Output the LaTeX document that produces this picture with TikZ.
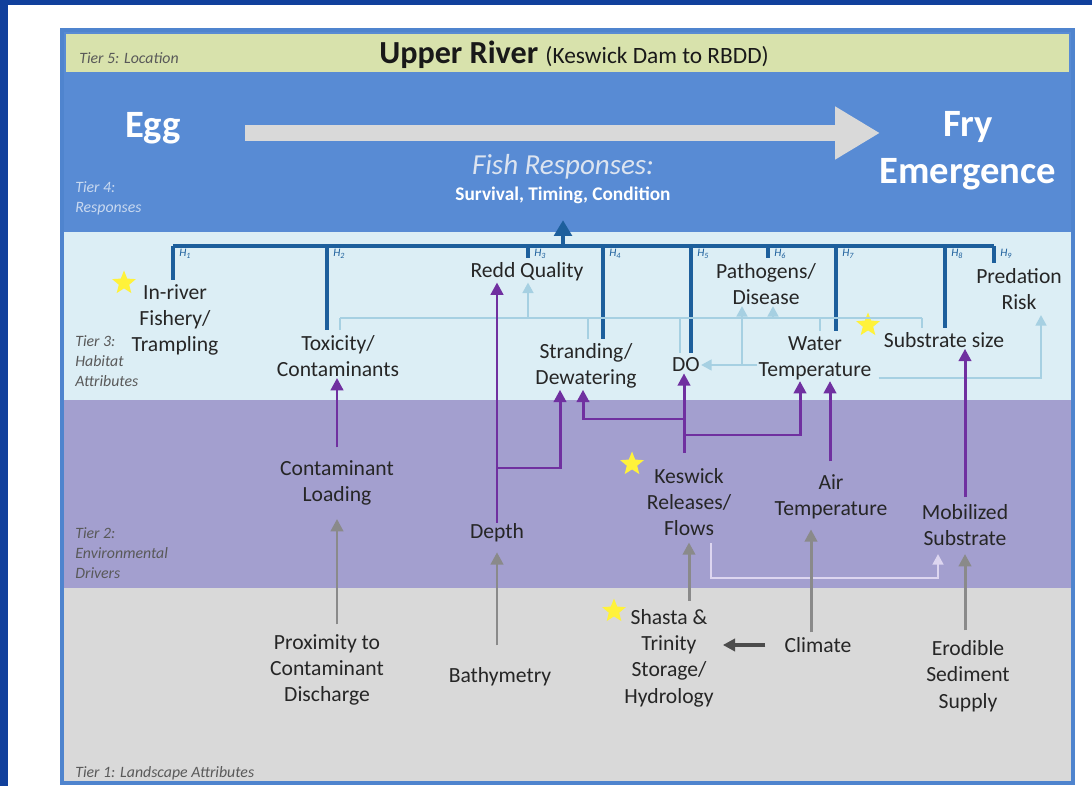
\documentclass[tikz,border=0pt]{standalone}
\usepackage{fontspec}
\setmainfont{Carlito}
\usetikzlibrary{arrows.meta,shapes.geometric,calc}

\definecolor{navybg}{HTML}{11409C}
\definecolor{frameblue}{HTML}{4F84CE}
\definecolor{tierfive}{HTML}{D8E2AC}
\definecolor{tierfour}{HTML}{588BD4}
\definecolor{tierthree}{HTML}{DCEEF5}
\definecolor{tiertwo}{HTML}{A39FCF}
\definecolor{tierone}{HTML}{D9D9D9}
\definecolor{hblue}{HTML}{1D5F9C}
\definecolor{habblue}{HTML}{A6D0E2}
\definecolor{purplelink}{HTML}{7030A0}
\definecolor{greylink}{HTML}{8A8A8A}
\definecolor{altlink}{HTML}{DDD6F0}
\definecolor{lifegrey}{HTML}{D9D9D9}
\definecolor{fishtext}{HTML}{DCE4F0}
\definecolor{tierfourtext}{HTML}{C9D9F0}
\definecolor{staryellow}{HTML}{FFF23A}

\tikzset{
  attr/.style={font=\fontsize{12.3}{15}\selectfont, align=center, text=black!85, inner sep=0.5pt},
  tiertext/.style={font=\fontsize{9}{11.3}\selectfont\itshape, align=left, anchor=west, inner sep=0pt, text=black!65},
  hlabel/.style={font=\fontsize{6.5}{7}\selectfont\itshape, anchor=west, inner sep=0pt, text=hblue},
  goldstar/.style={star, star points=5, star point ratio=2.3, fill=staryellow, minimum size=0.5cm, inner sep=0pt},
  hlink/.style={hblue, line width=2.3pt},
  habitat/.style={habblue, line width=1.6pt},
  habarrow/.style={habitat, -{Triangle[length=6pt,width=6pt]}},
  driver/.style={purplelink, line width=1.7pt, -{Triangle[length=7pt,width=7pt]}},
  landscape/.style={greylink, line width=1.7pt, -{Triangle[length=7pt,width=7pt]}},
  bigarrow/.style={lifegrey, line width=0.32cm, -{Triangle[length=0.9cm,width=1cm]}},
}

\begin{document}
\begin{tikzpicture}[x=0.02cm,y=-0.02cm]
  \useasboundingbox (0,0) rectangle (1092,786);

  % page background
  \fill[white] (0,0) rectangle (1092,786);
  \fill[navybg] (0,0) rectangle (1092,5);
  \fill[navybg] (0,0) rectangle (8,786);

  % tier bands
  \fill[frameblue] (60,28) rectangle (1075,785);
  \fill[tierfour] (64,32) rectangle (1071,232);
  \fill[tierfive] (66,34) rectangle (1069,72);
  \fill[tierthree] (64,232) rectangle (1071,400);
  \fill[tiertwo] (64,400) rectangle (1071,588);
  \fill[tierone] (64,588) rectangle (1071,781);

  % tier labels
  \node[tiertext] (t5) at (79,58) {Tier 5: Location};
  \node[tiertext, text=tierfourtext] (t4) at (75,198) {Tier 4:\\Responses};
  \node[tiertext] (t3) at (75,361) {Tier 3:\\Habitat\\Attributes};
  \node[tiertext] (t2) at (75,553) {Tier 2:\\Environmental\\Drivers};
  \node[tiertext] (t1) at (75,773) {Tier 1: Landscape Attributes};

  % title and life stages
  \node[text=black!90] (title) at (574,55) {\fontsize{18.3}{20}\selectfont\bfseries Upper River\ {\fontsize{13.3}{15}\selectfont\mdseries (Keswick Dam to RBDD)}};
  \node[font=\fontsize{22}{24}\selectfont\bfseries, text=white] (egg) at (153,128) {Egg};
  \node[font=\fontsize{22}{26.6}\selectfont\bfseries, text=white, align=center] (fry) at (968,151) {Fry\\Emergence};
  \coordinate (lifeA) at (245,133);
  \coordinate (lifeB) at (880,133);
  \draw[bigarrow] (lifeA) -- (lifeB);
  \node[font=\fontsize{16.5}{18}\selectfont\itshape, text=fishtext] (fish) at (563,167) {Fish Responses:};
  \node[font=\fontsize{11}{13}\selectfont\bfseries, text=white] (resp) at (563,195) {Survival, Timing, Condition};

  % tier 3: habitat attributes
  \node[attr] (fishery) at (175,320) {In-river\\Fishery/\\Trampling};
  \node[attr] (toxicity) at (338,356) {Toxicity/\\Contaminants};
  \node[attr] (redd) at (527,272) {Redd Quality};
  \node[attr] (strand) at (586,366) {Stranding/\\Dewatering};
  \node[attr] (do) at (686,365) {DO};
  \node[attr] (pathogen) at (766,284) {Pathogens/\\Disease};
  \node[attr] (watertemp) at (815,358) {Water\\Temperature};
  \node[attr] (substrate) at (944,340) {Substrate size};
  \node[attr] (predation) at (1019,289) {Predation\\Risk};

  % tier 2: environmental drivers
  \node[attr] (contload) at (337,483) {Contaminant\\Loading};
  \node[attr] (depth) at (497,533) {Depth};
  \node[attr] (keswick) at (689,502) {Keswick\\Releases/\\Flows};
  \node[attr] (airtemp) at (831,497) {Air\\Temperature};
  \node[attr] (mobil) at (965,525) {Mobilized\\Substrate};

  % tier 1: landscape attributes
  \node[attr] (proximity) at (327,670) {Proximity to\\Contaminant\\Discharge};
  \node[attr] (bathy) at (500,677) {Bathymetry};
  \node[attr] (shasta) at (669,658) {Shasta \&\\Trinity\\Storage/\\Hydrology};
  \node[attr] (climate) at (818,645) {Climate};
  \node[attr] (erodible) at (968,676) {Erodible\\Sediment\\Supply};

  % stars
  \node[goldstar] (s1) at (124,283) {};
  \node[goldstar] (s2) at (868,325) {};
  \node[goldstar] (s3) at (632,464) {};
  \node[goldstar] (s4) at (614,611) {};

  % hypotheses bar
  \draw[hlink] (173,246) -- (994,246);
  \foreach \n/\i/\x in {fishery/1/173, toxicity/2/327, redd/3/528, strand/4/603, do/5/691,
                        pathogen/6/768, watertemp/7/836, substrate/8/945, predation/9/994}{
    \draw[hlink, shorten >=2pt] (\x,246) -- (\x,246 |- \n.north);
    \node[hlabel] (h\i) at (\x+6,254) {H\textsubscript{\i}};
  }
  \draw[hlink, shorten >=6pt, -{Triangle[length=9pt,width=10pt]}] (563,246) -- (resp.south);

  % links among habitat attributes
  \draw[habitat] (340,318) -- (922,318);
  \foreach \n/\x in {toxicity/340, strand/588, do/680, watertemp/820, substrate/922}
    \draw[habitat, shorten >=2pt] (\x,318) -- (\x,318 |- \n.north);
  \foreach \n/\x in {redd/528, pathogen/773}
    \draw[habarrow] (\x,318) -- (\x,318 |- \n.south);
  \coordinate (wtj) at (742,365);
  \draw[habitat] (watertemp.west |- wtj) -- (wtj);
  \draw[habarrow] (wtj) -- (do.east |- wtj);
  \draw[habarrow] (wtj) -- (wtj |- pathogen.south);
  \draw[habarrow] ($(watertemp.east)+(6,20)$) -| ($(predation.south)+(22,4)$);

  % drivers to habitat attributes
  \coordinate (cj) at ($(contload.north)+(0,-12)$);
  \draw[driver] (cj) -- (cj |- toxicity.south);
  \draw[driver] (depth.north) -- (depth.north |- redd.south);
  \coordinate (dj) at (497,468);
  \draw[driver] (dj) -| ($(strand.south)+(-26,0)$);
  \coordinate (kj) at ($(keswick.north)+(-5,-14)$);
  \draw[driver] (kj) -- (kj |- do.south);
  \coordinate (kj1) at (684,419);
  \coordinate (kj2) at (684,435);
  \draw[driver] (kj1) -| ($(strand.south)+(-3,0)$);
  \draw[driver] (kj2) -| ($(watertemp.south)+(-15,0)$);
  \coordinate (aj) at ($(airtemp.north)+(-1,-12)$);
  \draw[driver] (aj) -- (aj |- watertemp.south);
  \coordinate (mj) at ($(mobil.north)+(0,-6)$);
  \draw[driver] (mj) -- (mj |- substrate.south);

  % flows to mobilized substrate
  \coordinate (kf) at ($(keswick.south)+(22,6)$);
  \coordinate (mf) at (938,578);
  \draw[altlink, line width=1.6pt, shorten >=4pt, -{Triangle[length=6pt,width=6pt]}] (kf) |- (mf) -- (mf |- mobil.south);

  % landscape to drivers
  \draw[landscape, shorten <=5pt, shorten >=7pt] (contload.south |- proximity.north) -- (contload.south);
  \draw[landscape, shorten <=12pt, shorten >=5pt] (depth.south |- bathy.north) -- (depth.south);
  \draw[landscape, shorten <=4pt, shorten >=3pt] (keswick.south |- shasta.north) -- (keswick.south);
  \coordinate (clj) at ($(climate.north)+(-7,-4)$);
  \draw[landscape, shorten >=5pt] (clj) -- (clj |- airtemp.south);
  \draw[landscape, shorten <=5pt, shorten >=4pt] (mobil.south |- erodible.north) -- (mobil.south);
  \coordinate (clw) at ($(climate.west)+(-18,0)$);
  \draw[black!70, line width=2pt, -{Triangle[length=7pt,width=7pt]}] (clw) -- ($(clw -| shasta.east)+(8,0)$);
\end{tikzpicture}
\end{document}
